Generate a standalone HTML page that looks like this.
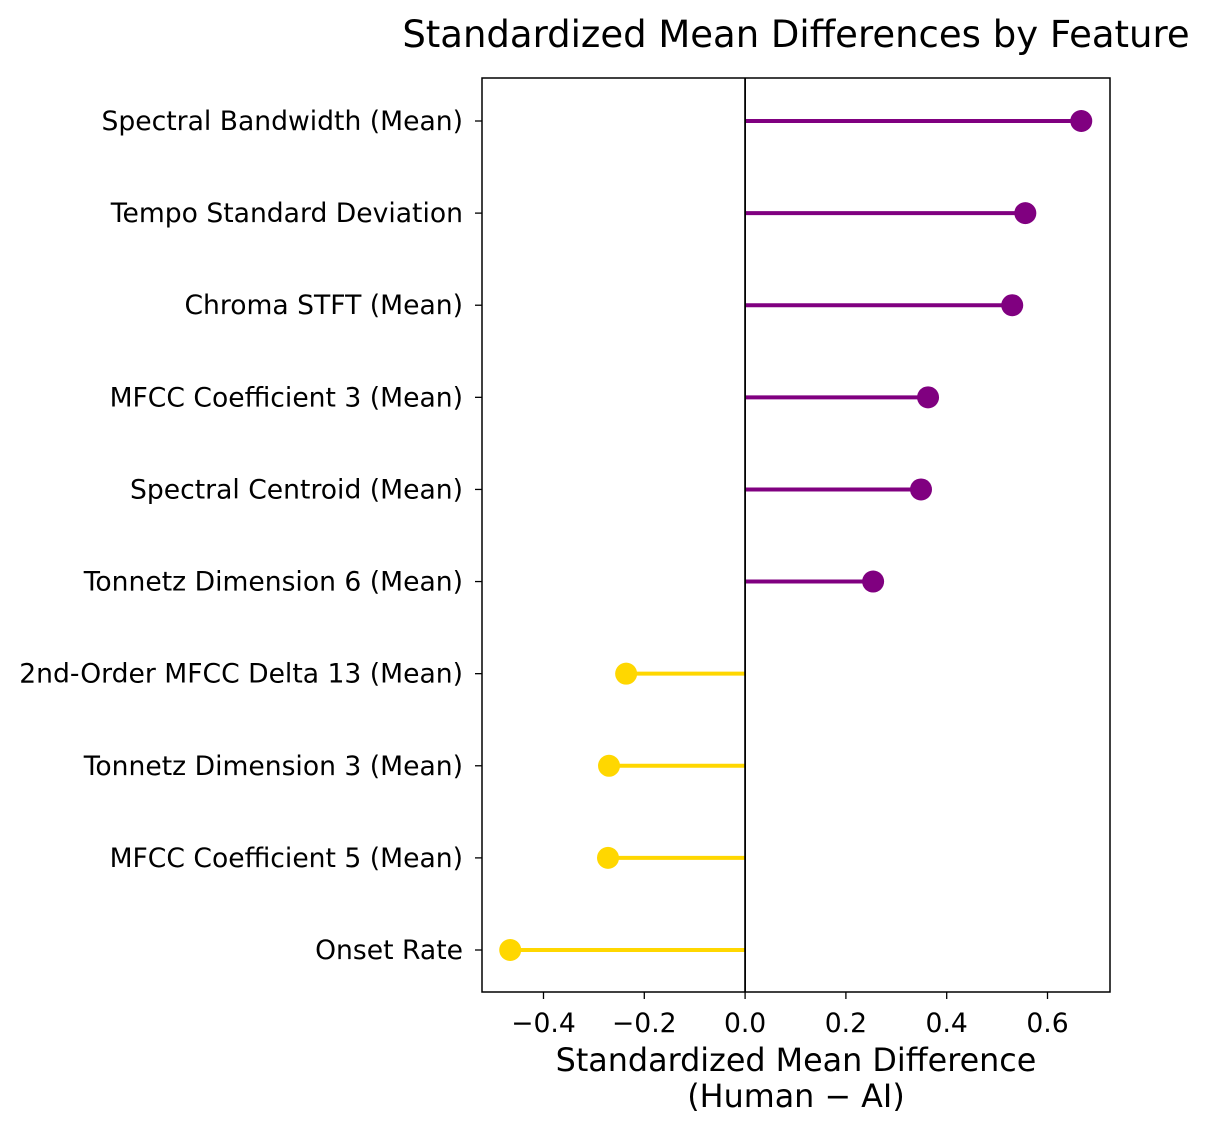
<!DOCTYPE html>
<html><head><meta charset="utf-8"><style>
body{margin:0;background:#fff}
text{font-family:"DejaVu Sans","Liberation Sans",sans-serif;fill:#000}
.tk{font-size:26.6px}
.ttl{font-size:37px}
.xl{font-size:31.8px}
</style></head><body>
<svg id="chart" width="1213" height="1133" xmlns="http://www.w3.org/2000/svg"></svg>
<script>
const categories=["Spectral Bandwidth (Mean)","Tempo Standard Deviation","Chroma STFT (Mean)","MFCC Coefficient 3 (Mean)","Spectral Centroid (Mean)","Tonnetz Dimension 6 (Mean)","2nd-Order MFCC Delta 13 (Mean)","Tonnetz Dimension 3 (Mean)","MFCC Coefficient 5 (Mean)","Onset Rate"];
const values=[0.667,0.556,0.530,0.363,0.349,0.254,-0.236,-0.270,-0.272,-0.466];
const xTicks=[-0.4,-0.2,0.0,0.2,0.4,0.6];
const xTickLabels=["\u22120.4","\u22120.2","0.0","0.2","0.4","0.6"];
const svg=document.getElementById('chart');
const NS="http://www.w3.org/2000/svg";
const L=482,R=1110,T=78,B=992,xmin=-0.522,xmax=0.724;
const xs=v=>L+(v-xmin)/(xmax-xmin)*(R-L);
const ys=i=>121+i*(950-121)/(categories.length-1);
function mk(tag,attrs,txt){const e=document.createElementNS(NS,tag);for(const k in attrs)e.setAttribute(k,attrs[k]);if(txt!==undefined)e.textContent=txt;svg.appendChild(e);return e;}
let t=mk('text',{x:796,y:47,'class':'ttl','text-anchor':'middle'},'Standardized Mean Differences by Feature');


categories.forEach((c,i)=>{
  const y=ys(i),v=values[i],col=v>=0?'#800080':'#ffd700';
  let ln=mk('line',{x1:xs(0),x2:xs(v),y1:y,y2:y,stroke:col,'stroke-width':4});
  
  
  let d=mk('circle',{cx:xs(v),cy:y,r:11,fill:col});
  
  
  let tk=mk('line',{x1:L-7,x2:L,y1:y,y2:y,stroke:'#000','stroke-width':1.3});
  
  
  let lb=mk('text',{x:L-19,y:y+9,'class':'tk','text-anchor':'end'},c);
  
  
});
let zl=mk('line',{x1:xs(0),x2:xs(0),y1:T,y2:B,stroke:'#000','stroke-width':1.8});


let fr=mk('rect',{x:L,y:T,width:R-L,height:B-T,fill:'none',stroke:'#000','stroke-width':1.5});


xTicks.forEach((v,i)=>{
  let tk=mk('line',{x1:xs(v),x2:xs(v),y1:B,y2:B+7,stroke:'#000','stroke-width':1.3});
  
  
  let lb=mk('text',{x:xs(v),y:B+40,'class':'tk','text-anchor':'middle'},xTickLabels[i]);
  
  
});
let xl=mk('text',{x:796,y:1071,'class':'xl','text-anchor':'middle'},'Standardized Mean Difference');


let xl2=mk('text',{x:796,y:1107,'class':'xl','text-anchor':'middle'},'(Human \u2212 AI)');


</script>
</body></html>
